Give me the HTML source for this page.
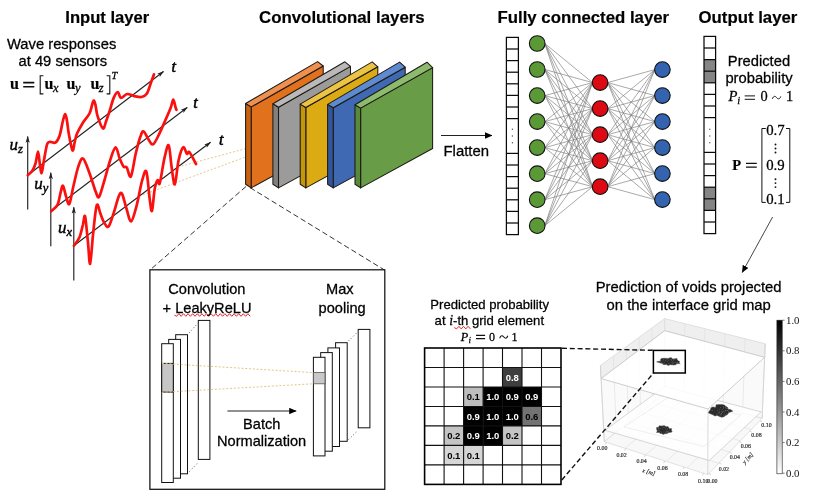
<!DOCTYPE html>
<html><head><meta charset="utf-8"><title>CNN void detection</title>
<style>
html,body{margin:0;padding:0;background:#fff;}
body{width:827px;height:502px;position:relative;overflow:hidden;font-family:"Liberation Sans",sans-serif;color:#000;}
svg{display:block;will-change:transform;opacity:0.999}
text{white-space:pre}
</style></head><body>
<svg width="827" height="502" viewBox="0 0 827 502" style="position:absolute;left:0;top:0">
<defs><marker id="ah" viewBox="0 0 10 10" refX="9" refY="5" markerWidth="7.5" markerHeight="7" markerUnits="userSpaceOnUse" orient="auto"><path d="M0,2 L10,5 L0,8 L2.2,5 z" fill="#222"/></marker><marker id="ab" viewBox="0 0 7.4 6.4" refX="7" refY="3.2" markerWidth="7.4" markerHeight="6.4" markerUnits="userSpaceOnUse" orient="auto"><path d="M0,0 L7.4,3.2 L0,6.4 z" fill="#000"/></marker><filter id="bl" x="-20%" y="-20%" width="140%" height="140%"><feGaussianBlur stdDeviation="0.35"/></filter><linearGradient id="cb" x1="0" y1="0" x2="0" y2="1"><stop offset="0" stop-color="#000"/><stop offset="1" stop-color="#fff"/></linearGradient></defs>
<g stroke="#222" stroke-width="1.15" fill="none">
<line x1="27.7" y1="175.3" x2="163.5" y2="71.5" marker-end="url(#ah)"/>
<line x1="27.7" y1="209.6" x2="27.7" y2="136.4" marker-end="url(#ah)"/>
<line x1="50.8" y1="211.0" x2="187.2" y2="107.5" marker-end="url(#ah)"/>
<line x1="50.8" y1="246.2" x2="50.8" y2="172.8" marker-end="url(#ah)"/>
<line x1="73.8" y1="245.8" x2="210.5" y2="142.3" marker-end="url(#ah)"/>
<line x1="73.8" y1="280.6" x2="73.8" y2="207.2" marker-end="url(#ah)"/>
</g>
<g stroke="#e2c788" stroke-width="1" fill="none" stroke-dasharray="2,1.8">
<line x1="178" y1="167" x2="245" y2="148.8"/>
<line x1="143" y1="194.8" x2="245" y2="157.2"/>
</g>
<g stroke="#fb1010" stroke-width="2.7" fill="none" stroke-linejoin="round" stroke-linecap="round">
<path d="M27.8,175.2 C28.6,174.4 31.0,172.6 32.3,170.7 C33.6,168.8 34.5,166.7 35.5,163.5 C36.5,160.3 37.3,151.5 38.0,151.5 C38.7,151.5 39.2,159.9 39.8,163.5 C40.4,167.1 40.9,173.4 41.6,173.0 C42.3,172.6 43.0,165.5 43.9,160.8 C44.8,156.1 46.0,147.8 47.0,144.7 C48.0,141.5 48.6,142.2 50.0,141.9 C51.4,141.6 53.8,143.6 55.4,142.6 C57.0,141.6 58.2,139.7 59.5,136.0 C60.8,132.3 62.0,124.2 63.0,120.5 C64.0,116.8 64.5,114.0 65.2,114.1 C65.9,114.2 66.4,117.7 67.0,121.0 C67.6,124.3 67.9,128.9 68.8,133.8 C69.7,138.7 71.5,148.8 72.4,150.3 C73.4,151.8 73.8,145.8 74.5,143.0 C75.2,140.2 75.5,137.3 76.9,133.8 C78.4,130.3 81.1,125.6 83.2,122.2 C85.3,118.8 88.0,116.5 89.5,113.5 C91.0,110.5 91.5,106.7 92.2,104.5 C92.9,102.3 93.3,100.4 93.9,100.6 C94.5,100.8 95.0,103.0 95.6,105.5 C96.2,108.0 96.3,112.1 97.5,115.9 C98.7,119.7 101.5,127.5 102.9,128.4 C104.3,129.3 105.0,124.2 106.0,121.5 C107.0,118.8 107.9,116.2 109.2,112.3 C110.5,108.4 112.3,101.2 113.7,97.9 C115.1,94.6 116.6,92.2 117.8,92.2 C119.0,92.2 119.4,97.6 120.9,97.9 C122.5,98.2 124.9,94.3 127.1,94.0 C129.3,93.7 131.9,95.6 134.3,96.1 C136.7,96.6 139.4,97.4 141.5,97.0 C143.6,96.6 145.3,96.0 146.9,93.5 C148.5,91.0 150.1,85.0 151.3,81.8 C152.5,78.6 153.6,75.5 154.0,74.3"/>
<path d="M51.2,211.2 C52.2,210.1 55.9,208.0 57.5,204.8 C59.1,201.6 59.8,195.3 60.7,192.1 C61.6,188.9 62.1,184.9 63.0,185.7 C63.9,186.5 65.1,193.8 66.2,196.9 C67.2,199.9 68.1,205.7 69.3,203.9 C70.6,202.0 72.0,191.9 73.5,185.7 C75.0,179.5 76.7,171.1 78.3,166.6 C79.9,162.0 81.2,157.5 83.1,158.6 C84.9,159.6 87.3,167.4 89.4,172.9 C91.6,178.5 94.2,188.1 95.8,192.1 C97.4,196.1 97.7,198.5 99.0,196.9 C100.3,195.3 101.9,188.6 103.8,182.5 C105.7,176.4 108.2,166.0 110.2,160.2 C112.1,154.3 114.0,147.7 115.6,147.4 C117.2,147.2 118.4,155.4 119.7,158.6 C121.1,161.8 122.4,165.1 123.6,166.6 C124.7,168.0 125.5,165.9 126.8,167.5 C128.0,169.2 129.4,178.7 130.9,176.4 C132.4,174.2 134.1,160.5 135.7,153.8 C137.3,147.1 139.1,140.0 140.5,136.3 C141.8,132.5 142.3,130.9 143.7,131.5 C145.0,132.0 146.9,137.3 148.5,139.4 C150.0,141.6 151.4,145.3 153.2,144.2 C155.1,143.2 157.5,137.3 159.6,133.1 C161.7,128.8 164.1,123.0 166.0,118.7 C167.9,114.5 169.6,110.7 170.8,107.5 C172.0,104.4 172.5,99.6 173.3,99.6 C174.1,99.6 175.0,105.8 175.6,107.5 C176.1,109.2 176.4,109.4 176.5,109.8"/>
<path d="M73.9,245.7 C74.9,244.3 78.0,240.8 79.5,237.3 C81.0,233.8 81.9,228.3 82.9,224.8 C83.8,221.3 84.3,213.6 85.1,216.4 C85.9,219.2 87.0,233.6 87.9,241.5 C88.7,249.4 89.3,264.7 90.1,263.8 C90.9,262.9 92.0,244.8 92.9,235.9 C93.8,227.1 94.9,216.0 95.7,210.8 C96.5,205.6 96.8,204.2 97.6,204.7 C98.4,205.2 99.3,210.5 100.4,213.6 C101.6,216.7 103.2,221.3 104.6,223.4 C106.0,225.5 107.2,228.3 108.8,226.2 C110.4,224.1 112.7,215.7 114.4,210.8 C116.0,206.0 117.3,199.8 118.5,196.9 C119.8,194.0 120.6,191.7 121.9,193.6 C123.2,195.4 124.8,203.4 126.3,208.0 C127.9,212.7 129.4,221.9 131.1,221.4 C132.8,221.0 134.8,212.1 136.7,205.3 C138.5,198.4 140.6,185.7 142.2,180.2 C143.9,174.6 145.2,168.6 146.4,171.8 C147.7,175.1 148.8,193.2 149.8,199.7 C150.7,206.2 151.1,212.7 152.0,210.8 C152.8,209.0 153.8,193.6 154.8,188.5 C155.7,183.4 156.7,181.1 157.6,180.2 C158.4,179.2 158.6,186.7 159.8,183.0 C161.0,179.2 163.0,164.1 164.5,157.9 C166.0,151.6 167.5,143.9 168.7,145.3 C169.9,146.7 170.5,159.7 171.5,166.2 C172.5,172.7 173.7,185.3 174.8,184.4 C176.0,183.4 177.1,166.8 178.5,160.7 C179.9,154.5 181.8,148.4 183.2,147.3 C184.6,146.1 185.8,152.9 186.8,153.7 C187.9,154.5 188.1,150.6 189.6,152.3 C191.1,154.0 195.0,162.1 196.0,164.0"/>
</g>
<g stroke="#333" stroke-width="1" fill="none" stroke-dasharray="5.5,3">
<line x1="246" y1="186.5" x2="150" y2="270"/>
<line x1="250" y1="187.6" x2="384.5" y2="270"/>
</g>
<polygon points="251.2,106.9 323.2,66.0 323.2,148.5 251.2,187.9" fill="#e2711d" stroke="#1f1a14" stroke-width="1.05" stroke-linejoin="round"/>
<polygon points="245.6,184.2 245.6,103.5 251.2,106.9 251.2,187.9" fill="#c9610f" stroke="#1f1a14" stroke-width="1.05" stroke-linejoin="round"/>
<polygon points="245.6,103.5 317.6,61.6 323.2,66.0 251.2,106.9" fill="#ee9150" stroke="#1f1a14" stroke-width="1.05" stroke-linejoin="round"/>
<polygon points="278.5,107.2 350.5,66.4 350.5,148.5 278.5,187.9" fill="#9b9b9b" stroke="#1f1a14" stroke-width="1.05" stroke-linejoin="round"/>
<polygon points="272.9,184.2 272.9,103.8 278.5,107.2 278.5,187.9" fill="#808080" stroke="#1f1a14" stroke-width="1.05" stroke-linejoin="round"/>
<polygon points="272.9,103.8 344.9,61.8 350.5,66.4 278.5,107.2" fill="#b9b9b9" stroke="#1f1a14" stroke-width="1.05" stroke-linejoin="round"/>
<polygon points="305.8,107.5 377.8,66.8 377.8,148.5 305.8,187.9" fill="#dcaa12" stroke="#1f1a14" stroke-width="1.05" stroke-linejoin="round"/>
<polygon points="300.2,184.2 300.2,104.1 305.8,107.5 305.8,187.9" fill="#c39708" stroke="#1f1a14" stroke-width="1.05" stroke-linejoin="round"/>
<polygon points="300.2,104.1 372.2,61.9 377.8,66.8 305.8,107.5" fill="#ebc444" stroke="#1f1a14" stroke-width="1.05" stroke-linejoin="round"/>
<polygon points="333.2,107.8 405.2,67.2 405.2,148.5 333.2,187.9" fill="#3f69b3" stroke="#1f1a14" stroke-width="1.05" stroke-linejoin="round"/>
<polygon points="327.6,184.2 327.6,104.4 333.2,107.8 333.2,187.9" fill="#31569c" stroke="#1f1a14" stroke-width="1.05" stroke-linejoin="round"/>
<polygon points="327.6,104.4 399.6,62.1 405.2,67.2 333.2,107.8" fill="#5e8ad2" stroke="#1f1a14" stroke-width="1.05" stroke-linejoin="round"/>
<polygon points="360.6,108.1 432.6,67.6 432.6,148.5 360.6,187.9" fill="#699c46" stroke="#1f1a14" stroke-width="1.05" stroke-linejoin="round"/>
<polygon points="355.0,184.2 355.0,104.7 360.6,108.1 360.6,187.9" fill="#598a3a" stroke="#1f1a14" stroke-width="1.05" stroke-linejoin="round"/>
<polygon points="355.0,104.7 427.0,62.2 432.6,67.6 360.6,108.1" fill="#8dbb6d" stroke="#1f1a14" stroke-width="1.05" stroke-linejoin="round"/>
<line x1="441" y1="135.5" x2="492" y2="135.5" stroke="#222" stroke-width="1" marker-end="url(#ab)"/>
<g stroke="#7a7a7a" stroke-width="0.65">
<line x1="544.8" y1="43.5" x2="592.5" y2="82.6"/>
<line x1="544.8" y1="43.5" x2="592.5" y2="108.6"/>
<line x1="544.8" y1="43.5" x2="592.5" y2="134.7"/>
<line x1="544.8" y1="43.5" x2="592.5" y2="160.7"/>
<line x1="544.8" y1="43.5" x2="592.5" y2="186.7"/>
<line x1="544.8" y1="69.5" x2="592.5" y2="82.6"/>
<line x1="544.8" y1="69.5" x2="592.5" y2="108.6"/>
<line x1="544.8" y1="69.5" x2="592.5" y2="134.7"/>
<line x1="544.8" y1="69.5" x2="592.5" y2="160.7"/>
<line x1="544.8" y1="69.5" x2="592.5" y2="186.7"/>
<line x1="544.8" y1="95.6" x2="592.5" y2="82.6"/>
<line x1="544.8" y1="95.6" x2="592.5" y2="108.6"/>
<line x1="544.8" y1="95.6" x2="592.5" y2="134.7"/>
<line x1="544.8" y1="95.6" x2="592.5" y2="160.7"/>
<line x1="544.8" y1="95.6" x2="592.5" y2="186.7"/>
<line x1="544.8" y1="121.6" x2="592.5" y2="82.6"/>
<line x1="544.8" y1="121.6" x2="592.5" y2="108.6"/>
<line x1="544.8" y1="121.6" x2="592.5" y2="134.7"/>
<line x1="544.8" y1="121.6" x2="592.5" y2="160.7"/>
<line x1="544.8" y1="121.6" x2="592.5" y2="186.7"/>
<line x1="544.8" y1="147.6" x2="592.5" y2="82.6"/>
<line x1="544.8" y1="147.6" x2="592.5" y2="108.6"/>
<line x1="544.8" y1="147.6" x2="592.5" y2="134.7"/>
<line x1="544.8" y1="147.6" x2="592.5" y2="160.7"/>
<line x1="544.8" y1="147.6" x2="592.5" y2="186.7"/>
<line x1="544.8" y1="173.7" x2="592.5" y2="82.6"/>
<line x1="544.8" y1="173.7" x2="592.5" y2="108.6"/>
<line x1="544.8" y1="173.7" x2="592.5" y2="134.7"/>
<line x1="544.8" y1="173.7" x2="592.5" y2="160.7"/>
<line x1="544.8" y1="173.7" x2="592.5" y2="186.7"/>
<line x1="544.8" y1="199.7" x2="592.5" y2="82.6"/>
<line x1="544.8" y1="199.7" x2="592.5" y2="108.6"/>
<line x1="544.8" y1="199.7" x2="592.5" y2="134.7"/>
<line x1="544.8" y1="199.7" x2="592.5" y2="160.7"/>
<line x1="544.8" y1="199.7" x2="592.5" y2="186.7"/>
<line x1="544.8" y1="225.7" x2="592.5" y2="82.6"/>
<line x1="544.8" y1="225.7" x2="592.5" y2="108.6"/>
<line x1="544.8" y1="225.7" x2="592.5" y2="134.7"/>
<line x1="544.8" y1="225.7" x2="592.5" y2="160.7"/>
<line x1="544.8" y1="225.7" x2="592.5" y2="186.7"/>
<line x1="607.7" y1="82.6" x2="654.8" y2="69.6"/>
<line x1="607.7" y1="82.6" x2="654.8" y2="95.6"/>
<line x1="607.7" y1="82.6" x2="654.8" y2="121.6"/>
<line x1="607.7" y1="82.6" x2="654.8" y2="147.6"/>
<line x1="607.7" y1="82.6" x2="654.8" y2="173.6"/>
<line x1="607.7" y1="82.6" x2="654.8" y2="199.6"/>
<line x1="607.7" y1="108.6" x2="654.8" y2="69.6"/>
<line x1="607.7" y1="108.6" x2="654.8" y2="95.6"/>
<line x1="607.7" y1="108.6" x2="654.8" y2="121.6"/>
<line x1="607.7" y1="108.6" x2="654.8" y2="147.6"/>
<line x1="607.7" y1="108.6" x2="654.8" y2="173.6"/>
<line x1="607.7" y1="108.6" x2="654.8" y2="199.6"/>
<line x1="607.7" y1="134.7" x2="654.8" y2="69.6"/>
<line x1="607.7" y1="134.7" x2="654.8" y2="95.6"/>
<line x1="607.7" y1="134.7" x2="654.8" y2="121.6"/>
<line x1="607.7" y1="134.7" x2="654.8" y2="147.6"/>
<line x1="607.7" y1="134.7" x2="654.8" y2="173.6"/>
<line x1="607.7" y1="134.7" x2="654.8" y2="199.6"/>
<line x1="607.7" y1="160.7" x2="654.8" y2="69.6"/>
<line x1="607.7" y1="160.7" x2="654.8" y2="95.6"/>
<line x1="607.7" y1="160.7" x2="654.8" y2="121.6"/>
<line x1="607.7" y1="160.7" x2="654.8" y2="147.6"/>
<line x1="607.7" y1="160.7" x2="654.8" y2="173.6"/>
<line x1="607.7" y1="160.7" x2="654.8" y2="199.6"/>
<line x1="607.7" y1="186.7" x2="654.8" y2="69.6"/>
<line x1="607.7" y1="186.7" x2="654.8" y2="95.6"/>
<line x1="607.7" y1="186.7" x2="654.8" y2="121.6"/>
<line x1="607.7" y1="186.7" x2="654.8" y2="147.6"/>
<line x1="607.7" y1="186.7" x2="654.8" y2="173.6"/>
<line x1="607.7" y1="186.7" x2="654.8" y2="199.6"/>
</g>
<g stroke="#111" stroke-width="1.1">
<circle cx="537.2" cy="43.5" r="7.8" fill="#5b9937"/>
<circle cx="537.2" cy="69.5" r="7.8" fill="#5b9937"/>
<circle cx="537.2" cy="95.6" r="7.8" fill="#5b9937"/>
<circle cx="537.2" cy="121.6" r="7.8" fill="#5b9937"/>
<circle cx="537.2" cy="147.6" r="7.8" fill="#5b9937"/>
<circle cx="537.2" cy="173.7" r="7.8" fill="#5b9937"/>
<circle cx="537.2" cy="199.7" r="7.8" fill="#5b9937"/>
<circle cx="537.2" cy="225.7" r="7.8" fill="#5b9937"/>
<circle cx="600.1" cy="82.6" r="7.8" fill="#dd0a14"/>
<circle cx="600.1" cy="108.6" r="7.8" fill="#dd0a14"/>
<circle cx="600.1" cy="134.7" r="7.8" fill="#dd0a14"/>
<circle cx="600.1" cy="160.7" r="7.8" fill="#dd0a14"/>
<circle cx="600.1" cy="186.7" r="7.8" fill="#dd0a14"/>
<circle cx="662.4" cy="69.6" r="7.8" fill="#3464b0"/>
<circle cx="662.4" cy="95.6" r="7.8" fill="#3464b0"/>
<circle cx="662.4" cy="121.6" r="7.8" fill="#3464b0"/>
<circle cx="662.4" cy="147.6" r="7.8" fill="#3464b0"/>
<circle cx="662.4" cy="173.6" r="7.8" fill="#3464b0"/>
<circle cx="662.4" cy="199.6" r="7.8" fill="#3464b0"/>
</g>
<g stroke="#0a0a0a" stroke-width="1.25" fill="none">
<rect x="506.4" y="37.4" width="12.0" height="197.2"/>
<line x1="506.4" y1="49.0" x2="518.4" y2="49.0"/>
<line x1="506.4" y1="60.6" x2="518.4" y2="60.6"/>
<line x1="506.4" y1="72.2" x2="518.4" y2="72.2"/>
<line x1="506.4" y1="83.8" x2="518.4" y2="83.8"/>
<line x1="506.4" y1="95.4" x2="518.4" y2="95.4"/>
<line x1="506.4" y1="107.0" x2="518.4" y2="107.0"/>
<line x1="506.4" y1="118.6" x2="518.4" y2="118.6"/>
<line x1="506.4" y1="153.4" x2="518.4" y2="153.4"/>
<line x1="506.4" y1="165.0" x2="518.4" y2="165.0"/>
<line x1="506.4" y1="176.6" x2="518.4" y2="176.6"/>
<line x1="506.4" y1="188.2" x2="518.4" y2="188.2"/>
<line x1="506.4" y1="199.8" x2="518.4" y2="199.8"/>
<line x1="506.4" y1="211.4" x2="518.4" y2="211.4"/>
<line x1="506.4" y1="223.0" x2="518.4" y2="223.0"/>
</g>
<circle cx="512.4" cy="129.2" r="0.7" fill="#555"/>
<circle cx="512.4" cy="136.0" r="0.7" fill="#555"/>
<circle cx="512.4" cy="142.8" r="0.7" fill="#555"/>
<rect x="704.0" y="59.6" width="11.6" height="11.6" fill="#858585"/>
<rect x="704.0" y="71.2" width="11.6" height="11.6" fill="#858585"/>
<rect x="704.0" y="187.2" width="11.6" height="11.6" fill="#858585"/>
<rect x="704.0" y="198.8" width="11.6" height="11.6" fill="#858585"/>
<g stroke="#0a0a0a" stroke-width="1.25" fill="none">
<rect x="704.0" y="36.4" width="11.6" height="197.2"/>
<line x1="704.0" y1="48.0" x2="715.6" y2="48.0"/>
<line x1="704.0" y1="59.6" x2="715.6" y2="59.6"/>
<line x1="704.0" y1="71.2" x2="715.6" y2="71.2"/>
<line x1="704.0" y1="82.8" x2="715.6" y2="82.8"/>
<line x1="704.0" y1="94.4" x2="715.6" y2="94.4"/>
<line x1="704.0" y1="106.0" x2="715.6" y2="106.0"/>
<line x1="704.0" y1="117.6" x2="715.6" y2="117.6"/>
<line x1="704.0" y1="152.4" x2="715.6" y2="152.4"/>
<line x1="704.0" y1="164.0" x2="715.6" y2="164.0"/>
<line x1="704.0" y1="175.6" x2="715.6" y2="175.6"/>
<line x1="704.0" y1="187.2" x2="715.6" y2="187.2"/>
<line x1="704.0" y1="198.8" x2="715.6" y2="198.8"/>
<line x1="704.0" y1="210.4" x2="715.6" y2="210.4"/>
<line x1="704.0" y1="222.0" x2="715.6" y2="222.0"/>
</g>
<circle cx="709.8" cy="129.2" r="0.7" fill="#555"/>
<circle cx="709.8" cy="136.0" r="0.7" fill="#555"/>
<circle cx="709.8" cy="142.8" r="0.7" fill="#555"/>
<line x1="772.6" y1="217" x2="742.2" y2="272.5" stroke="#333" stroke-width="0.9" marker-end="url(#ab)"/>
<g stroke="#111" stroke-width="1" fill="none">
<path d="M765.8,128.5 H761.9 V202.4 H765.8"/>
<path d="M786,128.5 H789.8 V202.4 H786"/>
</g>
<circle cx="775.5" cy="144.5" r="0.95" fill="#111"/>
<circle cx="775.5" cy="148.5" r="0.95" fill="#111"/>
<circle cx="775.5" cy="152.5" r="0.95" fill="#111"/>
<circle cx="775.5" cy="179.2" r="0.95" fill="#111"/>
<circle cx="775.5" cy="183.1" r="0.95" fill="#111"/>
<circle cx="775.5" cy="187.1" r="0.95" fill="#111"/>
<rect x="149.9" y="269.8" width="234.9" height="219.5" fill="#fff" stroke="#111" stroke-width="1.25"/>
<g stroke="#111" stroke-width="1" fill="#fff">
<rect x="198.3" y="320.4" width="11.6" height="139"/>
<rect x="175.7" y="334.7" width="11.8" height="139.1"/>
<rect x="168.7" y="339.4" width="11.8" height="138.8"/>
<rect x="161.7" y="343.7" width="11.6" height="138.8"/>
<rect x="161.7" y="363.4" width="11.6" height="28.7" fill="#c6c6c6"/>
<rect x="358.2" y="329.4" width="11.7" height="98.4"/>
<rect x="335.6" y="342.7" width="11.6" height="98.6"/>
<rect x="327.9" y="347.9" width="11.6" height="98.6"/>
<rect x="320.7" y="352.6" width="11.6" height="98.6"/>
<rect x="313.4" y="357.3" width="11.6" height="98.6"/>
<rect x="313.4" y="372.4" width="11.6" height="11.4" fill="#c8c8c8" stroke="#555" stroke-width="0.8"/>
</g>
<g stroke="#333" stroke-width="0.9" stroke-dasharray="0.9,2.4" fill="none">
<line x1="189.5" y1="471.5" x2="198" y2="462.5"/><line x1="189" y1="333" x2="198" y2="323"/>
<line x1="348.5" y1="439.5" x2="358" y2="430.5"/><line x1="348.5" y1="341" x2="358" y2="331.5"/>
</g>
<g stroke="#e2c788" stroke-width="1" stroke-dasharray="2,1.8" fill="none">
<line x1="161.8" y1="363.4" x2="313.2" y2="372.6"/><line x1="161.8" y1="392.3" x2="313.2" y2="383.8"/>
</g>
<line x1="227.4" y1="411" x2="296.2" y2="411" stroke="#222" stroke-width="1" marker-end="url(#ab)"/>
<path d="M174.3,315.0 L176.6,316.3 L178.9,313.7 L181.2,316.3 L183.5,313.7 L185.8,316.3 L188.1,313.7 L190.4,316.3 L192.7,313.7 L195.0,316.3 L197.3,313.7 L199.6,316.3 L201.9,313.7 L204.2,316.3 L206.5,313.7 L208.8,316.3 L211.1,313.7 L213.4,316.3 L215.7,313.7 L218.0,316.3 L220.3,313.7 L222.6,316.3 L224.9,313.7 L227.2,316.3 L229.5,313.7 L231.8,316.3 L234.1,313.7 L236.4,316.3 L238.7,313.7 L241.0,316.3 L243.3,313.7 L245.6,316.3 L247.9,313.7 L250.2,316.3" stroke="#e8262a" stroke-width="1" fill="none"/>
<path d="M454.3,327.6 L456.6,328.9 L458.9,326.3 L461.2,328.9 L463.5,326.3 L465.8,328.9 L468.1,326.3 L470.4,328.9" stroke="#e8262a" stroke-width="1" fill="none"/>
<rect x="502.5" y="367.5" width="19.5" height="19.5" fill="#3e3e3e"/>
<rect x="463.6" y="387.0" width="19.5" height="19.5" fill="#bdbdbd"/>
<rect x="483.1" y="387.0" width="19.5" height="19.5" fill="#000"/>
<rect x="502.5" y="387.0" width="19.5" height="19.5" fill="#000"/>
<rect x="522.0" y="387.0" width="19.5" height="19.5" fill="#000"/>
<rect x="463.6" y="406.5" width="19.5" height="19.5" fill="#000"/>
<rect x="483.1" y="406.5" width="19.5" height="19.5" fill="#000"/>
<rect x="502.5" y="406.5" width="19.5" height="19.5" fill="#000"/>
<rect x="522.0" y="406.5" width="19.5" height="19.5" fill="#737373"/>
<rect x="444.1" y="425.9" width="19.5" height="19.5" fill="#c4c4c4"/>
<rect x="463.6" y="425.9" width="19.5" height="19.5" fill="#000"/>
<rect x="483.1" y="425.9" width="19.5" height="19.5" fill="#000"/>
<rect x="502.5" y="425.9" width="19.5" height="19.5" fill="#c4c4c4"/>
<rect x="444.1" y="445.4" width="19.5" height="19.5" fill="#d6d6d6"/>
<rect x="463.6" y="445.4" width="19.5" height="19.5" fill="#d6d6d6"/>
<g stroke="#111" stroke-width="1.1">
<line x1="444.1" y1="348.0" x2="444.1" y2="484.4"/>
<line x1="424.6" y1="367.5" x2="561.0" y2="367.5"/>
<line x1="463.6" y1="348.0" x2="463.6" y2="484.4"/>
<line x1="424.6" y1="387.0" x2="561.0" y2="387.0"/>
<line x1="483.1" y1="348.0" x2="483.1" y2="484.4"/>
<line x1="424.6" y1="406.5" x2="561.0" y2="406.5"/>
<line x1="502.5" y1="348.0" x2="502.5" y2="484.4"/>
<line x1="424.6" y1="425.9" x2="561.0" y2="425.9"/>
<line x1="522.0" y1="348.0" x2="522.0" y2="484.4"/>
<line x1="424.6" y1="445.4" x2="561.0" y2="445.4"/>
<line x1="541.5" y1="348.0" x2="541.5" y2="484.4"/>
<line x1="424.6" y1="464.9" x2="561.0" y2="464.9"/>
</g>
<rect x="424.6" y="348.0" width="136.4" height="136.4" fill="none" stroke="#000" stroke-width="1.6"/>
<g font-family="Liberation Sans, sans-serif" font-weight="bold" font-size="9.5" text-anchor="middle">
<text x="512.3" y="380.7" fill="#fff">0.8</text>
<text x="473.3" y="400.2" fill="#000">0.1</text>
<text x="492.8" y="400.2" fill="#fff">1.0</text>
<text x="512.3" y="400.2" fill="#fff">0.9</text>
<text x="531.8" y="400.2" fill="#fff">0.9</text>
<text x="473.3" y="419.7" fill="#fff">0.9</text>
<text x="492.8" y="419.7" fill="#fff">1.0</text>
<text x="512.3" y="419.7" fill="#fff">1.0</text>
<text x="531.8" y="419.7" fill="#000">0.6</text>
<text x="453.8" y="439.2" fill="#000">0.2</text>
<text x="473.3" y="439.2" fill="#fff">0.9</text>
<text x="492.8" y="439.2" fill="#fff">1.0</text>
<text x="512.3" y="439.2" fill="#000">0.2</text>
<text x="453.8" y="458.7" fill="#000">0.1</text>
<text x="473.3" y="458.7" fill="#000">0.1</text>
</g>
<polygon points="600.4,365.5 664.7,318.7 664.7,393.0 604.3,441.7" fill="#fafafa" stroke="#e0e0e0" stroke-width="0.7" fill-opacity="1" stroke-linejoin="round"/>
<polygon points="664.7,318.7 765.2,343.8 762.1,418.3 664.7,393.0" fill="#fafafa" stroke="#e0e0e0" stroke-width="0.7" fill-opacity="1" stroke-linejoin="round"/>
<polygon points="600.4,365.5 664.7,318.7 664.7,330.7 601.0,378.6" fill="#efefef" stroke="#dcdcdc" stroke-width="0.7" fill-opacity="1" stroke-linejoin="round"/>
<polygon points="664.7,318.7 765.2,343.8 764.7,357.3 664.7,330.7" fill="#efefef" stroke="#dcdcdc" stroke-width="0.7" fill-opacity="1" stroke-linejoin="round"/>
<polygon points="604.3,441.7 664.7,393.0 762.1,418.3 707.8,474.6" fill="#f8f8f8" stroke="#d6d6d6" stroke-width="0.7" fill-opacity="1" stroke-linejoin="round"/>
<g stroke="#dddddd" stroke-width="0.6">
<line x1="613.3" y1="356.1" x2="616.4" y2="432.0"/>
<line x1="684.8" y1="323.7" x2="684.2" y2="398.1"/>
<line x1="625.0" y1="448.3" x2="684.2" y2="398.1"/>
<line x1="616.4" y1="432.0" x2="718.7" y2="463.3"/>
<line x1="626.1" y1="346.8" x2="628.5" y2="422.2"/>
<line x1="704.9" y1="328.7" x2="703.7" y2="403.1"/>
<line x1="645.7" y1="454.9" x2="703.7" y2="403.1"/>
<line x1="628.5" y1="422.2" x2="729.5" y2="452.1"/>
<line x1="639.0" y1="337.4" x2="640.5" y2="412.5"/>
<line x1="725.0" y1="333.8" x2="723.1" y2="408.2"/>
<line x1="666.4" y1="461.4" x2="723.1" y2="408.2"/>
<line x1="640.5" y1="412.5" x2="740.4" y2="440.8"/>
<line x1="651.8" y1="328.1" x2="652.6" y2="402.7"/>
<line x1="745.1" y1="338.8" x2="742.6" y2="413.2"/>
<line x1="687.1" y1="468.0" x2="742.6" y2="413.2"/>
<line x1="652.6" y1="402.7" x2="751.2" y2="429.6"/>
</g>
<g stroke="#bbb" stroke-width="0.6">
<line x1="606.4" y1="442.4" x2="605.2" y2="444.6"/>
<line x1="708.9" y1="473.5" x2="711.1" y2="474.7"/>
<line x1="625.8" y1="448.5" x2="624.6" y2="450.7"/>
<line x1="719.1" y1="462.9" x2="721.3" y2="464.1"/>
<line x1="645.3" y1="454.7" x2="644.1" y2="456.9"/>
<line x1="729.3" y1="452.3" x2="731.5" y2="453.5"/>
<line x1="664.7" y1="460.9" x2="663.5" y2="463.1"/>
<line x1="739.5" y1="441.7" x2="741.7" y2="442.9"/>
<line x1="684.2" y1="467.1" x2="683.0" y2="469.3"/>
<line x1="749.7" y1="431.1" x2="751.9" y2="432.3"/>
<line x1="703.7" y1="473.3" x2="702.5" y2="475.5"/>
<line x1="759.9" y1="420.6" x2="762.1" y2="421.8"/>
</g>
<polygon points="605.0,430.3 664.7,386.5 761.1,411.9 709.3,460.5" fill="#ffffff" stroke="#cdcdcd" stroke-width="0.8" fill-opacity="0.8" stroke-linejoin="round"/>
<polygon points="624,427 668,397.5 741,415 704,446.5" fill="none" stroke="#e4e4e4" stroke-width="0.6"/>
<polygon points="601.0,378.6 664.7,330.7 764.7,357.3 708.0,409.0" fill="#ffffff" stroke="#c8c8c8" stroke-width="0.9" fill-opacity="0.85" stroke-linejoin="round"/>
<g stroke="#cfcfcf" stroke-width="0.8"><line x1="708" y1="409" x2="707.8" y2="474.6"/><line x1="600.4" y1="365.5" x2="604.3" y2="441.7"/><line x1="765.2" y1="343.8" x2="762.1" y2="418.3"/></g>
<polygon points="679.9,361.8 678.8,362.5 680.2,363.6 676.4,363.7 676.0,364.8 673.3,365.0 670.6,364.7 668.1,365.4 666.3,364.5 663.3,364.7 662.6,363.7 661.3,363.2 658.9,362.6 656.6,361.8 660.3,361.1 660.7,360.3 660.6,359.3 661.8,358.3 665.4,358.3 668.2,358.4 671.1,357.5 672.7,359.1 676.9,358.4 677.2,359.6 677.9,360.4 678.6,361.1" fill="#2a2a2a" stroke="#555" stroke-width="0.5" stroke-linejoin="round" filter="url(#bl)"/>
<circle cx="666.4" cy="364.4" r="0.35" fill="#8a8a8a"/><circle cx="672.6" cy="363.9" r="0.35" fill="#8a8a8a"/><circle cx="665.7" cy="360.4" r="0.35" fill="#8a8a8a"/><circle cx="667.2" cy="361.6" r="0.35" fill="#8a8a8a"/><circle cx="673.6" cy="362.3" r="0.35" fill="#8a8a8a"/><circle cx="666.8" cy="360.0" r="0.35" fill="#8a8a8a"/><circle cx="666.6" cy="364.0" r="0.35" fill="#8a8a8a"/><circle cx="664.5" cy="362.3" r="0.35" fill="#8a8a8a"/><circle cx="671.7" cy="359.3" r="0.35" fill="#8a8a8a"/><circle cx="669.8" cy="364.1" r="0.35" fill="#8a8a8a"/><circle cx="660.6" cy="361.3" r="0.35" fill="#8a8a8a"/><circle cx="668.8" cy="360.2" r="0.35" fill="#8a8a8a"/><circle cx="672.8" cy="361.7" r="0.35" fill="#8a8a8a"/><circle cx="662.2" cy="363.1" r="0.35" fill="#8a8a8a"/><circle cx="673.4" cy="363.5" r="0.35" fill="#8a8a8a"/><circle cx="677.1" cy="362.4" r="0.35" fill="#8a8a8a"/><circle cx="670.2" cy="359.5" r="0.35" fill="#8a8a8a"/><circle cx="673.3" cy="360.6" r="0.35" fill="#8a8a8a"/><circle cx="667.0" cy="359.6" r="0.35" fill="#8a8a8a"/><circle cx="663.8" cy="360.8" r="0.35" fill="#8a8a8a"/><circle cx="674.5" cy="359.3" r="0.35" fill="#8a8a8a"/><circle cx="661.8" cy="362.2" r="0.35" fill="#8a8a8a"/><circle cx="677.0" cy="362.8" r="0.35" fill="#8a8a8a"/><circle cx="663.7" cy="359.4" r="0.35" fill="#8a8a8a"/><circle cx="671.7" cy="360.3" r="0.35" fill="#8a8a8a"/><circle cx="663.6" cy="363.4" r="0.35" fill="#8a8a8a"/><circle cx="676.0" cy="362.1" r="0.35" fill="#8a8a8a"/><circle cx="671.1" cy="362.7" r="0.35" fill="#8a8a8a"/><circle cx="677.3" cy="362.8" r="0.35" fill="#8a8a8a"/><circle cx="672.8" cy="362.9" r="0.35" fill="#8a8a8a"/><circle cx="662.6" cy="363.6" r="0.35" fill="#8a8a8a"/><circle cx="675.1" cy="362.8" r="0.35" fill="#8a8a8a"/><circle cx="660.9" cy="360.9" r="0.35" fill="#8a8a8a"/><circle cx="673.3" cy="359.2" r="0.35" fill="#8a8a8a"/><circle cx="668.4" cy="363.7" r="0.35" fill="#8a8a8a"/><circle cx="663.8" cy="364.0" r="0.35" fill="#8a8a8a"/>
<polygon points="732.8,411.2 728.9,412.4 728.2,413.6 727.2,414.7 725.6,415.5 724.0,416.7 721.7,417.3 719.3,416.4 717.5,415.5 714.8,415.9 713.1,414.9 711.0,414.0 708.4,412.9 709.2,411.2 710.3,409.8 710.8,408.3 712.1,407.0 715.7,407.3 716.1,404.7 719.0,404.6 721.8,404.4 724.5,405.0 726.0,406.6 727.8,407.5 727.9,408.9 731.0,409.7" fill="#2a2a2a" stroke="#555" stroke-width="0.5" stroke-linejoin="round" filter="url(#bl)"/>
<circle cx="722.5" cy="411.7" r="0.35" fill="#8a8a8a"/><circle cx="721.3" cy="413.2" r="0.35" fill="#8a8a8a"/><circle cx="719.3" cy="412.2" r="0.35" fill="#8a8a8a"/><circle cx="723.8" cy="411.2" r="0.35" fill="#8a8a8a"/><circle cx="724.6" cy="413.0" r="0.35" fill="#8a8a8a"/><circle cx="728.5" cy="411.9" r="0.35" fill="#8a8a8a"/><circle cx="717.9" cy="409.9" r="0.35" fill="#8a8a8a"/><circle cx="720.3" cy="414.2" r="0.35" fill="#8a8a8a"/><circle cx="718.4" cy="412.5" r="0.35" fill="#8a8a8a"/><circle cx="725.5" cy="407.1" r="0.35" fill="#8a8a8a"/><circle cx="714.4" cy="411.9" r="0.35" fill="#8a8a8a"/><circle cx="722.8" cy="412.0" r="0.35" fill="#8a8a8a"/><circle cx="717.9" cy="413.4" r="0.35" fill="#8a8a8a"/><circle cx="722.1" cy="409.4" r="0.35" fill="#8a8a8a"/><circle cx="728.8" cy="411.9" r="0.35" fill="#8a8a8a"/><circle cx="717.1" cy="410.9" r="0.35" fill="#8a8a8a"/><circle cx="719.0" cy="411.0" r="0.35" fill="#8a8a8a"/><circle cx="711.9" cy="410.3" r="0.35" fill="#8a8a8a"/><circle cx="725.2" cy="408.0" r="0.35" fill="#8a8a8a"/><circle cx="720.0" cy="414.2" r="0.35" fill="#8a8a8a"/><circle cx="724.2" cy="415.0" r="0.35" fill="#8a8a8a"/><circle cx="712.8" cy="410.3" r="0.35" fill="#8a8a8a"/><circle cx="718.4" cy="413.3" r="0.35" fill="#8a8a8a"/><circle cx="723.7" cy="406.6" r="0.35" fill="#8a8a8a"/><circle cx="725.1" cy="407.6" r="0.35" fill="#8a8a8a"/><circle cx="723.5" cy="407.3" r="0.35" fill="#8a8a8a"/><circle cx="721.3" cy="414.8" r="0.35" fill="#8a8a8a"/><circle cx="719.5" cy="411.9" r="0.35" fill="#8a8a8a"/><circle cx="725.0" cy="411.7" r="0.35" fill="#8a8a8a"/><circle cx="720.0" cy="415.4" r="0.35" fill="#8a8a8a"/><circle cx="726.0" cy="410.3" r="0.35" fill="#8a8a8a"/><circle cx="728.4" cy="409.3" r="0.35" fill="#8a8a8a"/><circle cx="725.5" cy="410.4" r="0.35" fill="#8a8a8a"/><circle cx="721.2" cy="413.5" r="0.35" fill="#8a8a8a"/><circle cx="721.7" cy="413.3" r="0.35" fill="#8a8a8a"/><circle cx="714.5" cy="407.9" r="0.35" fill="#8a8a8a"/><circle cx="723.7" cy="408.3" r="0.35" fill="#8a8a8a"/><circle cx="715.9" cy="407.5" r="0.35" fill="#8a8a8a"/><circle cx="726.5" cy="413.3" r="0.35" fill="#8a8a8a"/><circle cx="726.9" cy="408.8" r="0.35" fill="#8a8a8a"/><circle cx="720.4" cy="407.7" r="0.35" fill="#8a8a8a"/><circle cx="723.8" cy="415.2" r="0.35" fill="#8a8a8a"/><circle cx="716.5" cy="415.1" r="0.35" fill="#8a8a8a"/><circle cx="725.8" cy="410.6" r="0.35" fill="#8a8a8a"/><circle cx="713.5" cy="414.0" r="0.35" fill="#8a8a8a"/><circle cx="719.8" cy="409.2" r="0.35" fill="#8a8a8a"/><circle cx="722.8" cy="412.6" r="0.35" fill="#8a8a8a"/><circle cx="726.9" cy="408.7" r="0.35" fill="#8a8a8a"/><circle cx="725.2" cy="414.8" r="0.35" fill="#8a8a8a"/><circle cx="727.4" cy="410.7" r="0.35" fill="#8a8a8a"/><circle cx="716.6" cy="414.2" r="0.35" fill="#8a8a8a"/><circle cx="721.1" cy="411.6" r="0.35" fill="#8a8a8a"/><circle cx="727.3" cy="410.5" r="0.35" fill="#8a8a8a"/><circle cx="712.1" cy="410.4" r="0.35" fill="#8a8a8a"/>
<polygon points="671.1,430.0 672.2,431.2 671.4,432.3 668.8,432.5 667.7,433.2 666.4,433.7 664.8,433.8 663.1,434.4 661.7,433.6 660.0,433.4 659.4,432.4 656.4,432.4 657.4,431.0 656.8,430.0 656.7,428.9 656.4,427.6 658.7,427.2 659.1,425.8 661.4,426.0 663.1,425.7 664.9,425.7 666.0,426.8 668.0,426.6 668.7,427.5 669.1,428.4 672.0,428.8" fill="#2a2a2a" stroke="#555" stroke-width="0.5" stroke-linejoin="round" filter="url(#bl)"/>
<circle cx="666.0" cy="432.2" r="0.35" fill="#8a8a8a"/><circle cx="663.3" cy="427.3" r="0.35" fill="#8a8a8a"/><circle cx="661.9" cy="432.3" r="0.35" fill="#8a8a8a"/><circle cx="658.8" cy="428.9" r="0.35" fill="#8a8a8a"/><circle cx="667.7" cy="431.7" r="0.35" fill="#8a8a8a"/><circle cx="664.0" cy="431.9" r="0.35" fill="#8a8a8a"/><circle cx="664.6" cy="427.4" r="0.35" fill="#8a8a8a"/><circle cx="659.0" cy="428.8" r="0.35" fill="#8a8a8a"/><circle cx="667.5" cy="428.7" r="0.35" fill="#8a8a8a"/><circle cx="660.6" cy="428.3" r="0.35" fill="#8a8a8a"/><circle cx="658.9" cy="429.8" r="0.35" fill="#8a8a8a"/><circle cx="659.7" cy="430.8" r="0.35" fill="#8a8a8a"/><circle cx="658.0" cy="430.5" r="0.35" fill="#8a8a8a"/><circle cx="662.2" cy="426.8" r="0.35" fill="#8a8a8a"/><circle cx="667.0" cy="429.3" r="0.35" fill="#8a8a8a"/><circle cx="658.4" cy="428.7" r="0.35" fill="#8a8a8a"/><circle cx="665.2" cy="428.9" r="0.35" fill="#8a8a8a"/><circle cx="667.0" cy="431.7" r="0.35" fill="#8a8a8a"/><circle cx="666.7" cy="430.8" r="0.35" fill="#8a8a8a"/><circle cx="668.6" cy="431.3" r="0.35" fill="#8a8a8a"/><circle cx="665.2" cy="426.6" r="0.35" fill="#8a8a8a"/><circle cx="667.0" cy="432.6" r="0.35" fill="#8a8a8a"/><circle cx="662.7" cy="428.8" r="0.35" fill="#8a8a8a"/><circle cx="668.5" cy="427.6" r="0.35" fill="#8a8a8a"/><circle cx="665.2" cy="433.5" r="0.35" fill="#8a8a8a"/><circle cx="660.5" cy="431.5" r="0.35" fill="#8a8a8a"/><circle cx="669.6" cy="429.8" r="0.35" fill="#8a8a8a"/><circle cx="666.2" cy="432.0" r="0.35" fill="#8a8a8a"/>
<rect x="653.4" y="350.4" width="31.9" height="22.6" fill="none" stroke="#000" stroke-width="1.5"/>
<rect x="776.9" y="320.2" width="5.3" height="153.6" fill="url(#cb)" stroke="#222" stroke-width="0.6"/>
<g stroke="#222" stroke-width="0.6">
<line x1="782.6" y1="320.2" x2="784.6" y2="320.2"/>
<line x1="782.6" y1="350.8" x2="784.6" y2="350.8"/>
<line x1="782.6" y1="381.4" x2="784.6" y2="381.4"/>
<line x1="782.6" y1="412.0" x2="784.6" y2="412.0"/>
<line x1="782.6" y1="442.6" x2="784.6" y2="442.6"/>
<line x1="782.6" y1="473.2" x2="784.6" y2="473.2"/>
</g>
<g font-family="Liberation Serif, serif" font-size="10.8" fill="#111">
<text x="786" y="323.7">1.0</text>
<text x="786" y="354.3">0.8</text>
<text x="786" y="384.9">0.6</text>
<text x="786" y="415.5">0.4</text>
<text x="786" y="446.1">0.2</text>
<text x="786" y="476.7">0.0</text>
</g>
<g font-family="Liberation Serif, serif" font-size="5.9" fill="#333" stroke="#333" stroke-width="0.2" text-anchor="middle">
<text x="602.2" y="449.9">0.00</text>
<text x="621.6" y="456.6">0.02</text>
<text x="641.6" y="463.0">0.04</text>
<text x="662.5" y="470.0">0.06</text>
<text x="683.1" y="476.3">0.08</text>
<text x="703.2" y="482.8">0.10</text>
<text x="712.4" y="482.7">0.00</text>
<text x="723.9" y="470.8">0.02</text>
<text x="734.8" y="459.2">0.04</text>
<text x="745.8" y="448.4">0.06</text>
<text x="756.5" y="437.3">0.08</text>
<text x="766.5" y="426.9">0.10</text>
<text transform="translate(648.3,473.8) rotate(17)" font-style="italic">x [m]</text>
<text transform="translate(749.2,459.5) rotate(-48)" font-style="italic">y [m]</text>
</g>
<g stroke="#111" stroke-width="1.4" stroke-dasharray="5,2.8" fill="none">
<line x1="562" y1="348.3" x2="653.4" y2="350.3"/>
<line x1="561.8" y1="480" x2="653.4" y2="373.2"/>
</g>
<text x="65.3" y="22.7" font-family="Liberation Sans, sans-serif" font-size="16.60" font-weight="bold" font-style="normal" fill="#000" stroke="#000" stroke-width="0.2" >Input layer</text>
<text x="259.0" y="22.6" font-family="Liberation Sans, sans-serif" font-size="16.85" font-weight="bold" font-style="normal" fill="#000" stroke="#000" stroke-width="0.2" >Convolutional layers</text>
<text x="497.5" y="22.6" font-family="Liberation Sans, sans-serif" font-size="16.80" font-weight="bold" font-style="normal" fill="#000" stroke="#000" stroke-width="0.2" >Fully connected layer</text>
<text x="698.5" y="22.6" font-family="Liberation Sans, sans-serif" font-size="16.80" font-weight="bold" font-style="normal" fill="#000" stroke="#000" stroke-width="0.2" >Output layer</text>
<text x="7.0" y="48.6" font-family="Liberation Sans, sans-serif" font-size="14.75" font-weight="normal" font-style="normal" fill="#000" stroke="#000" stroke-width="0.28" >Wave responses</text>
<text x="18.5" y="66.4" font-family="Liberation Sans, sans-serif" font-size="14.75" font-weight="normal" font-style="normal" fill="#000" stroke="#000" stroke-width="0.28" >at 49 sensors</text>
<text x="443.5" y="155.7" font-family="Liberation Sans, sans-serif" font-size="14.90" font-weight="normal" font-style="normal" fill="#000" stroke="#000" stroke-width="0.28" >Flatten</text>
<text x="727.8" y="65.9" font-family="Liberation Sans, sans-serif" font-size="14.75" font-weight="normal" font-style="normal" fill="#000" stroke="#000" stroke-width="0.28" >Predicted</text>
<text x="725.4" y="82.9" font-family="Liberation Sans, sans-serif" font-size="14.75" font-weight="normal" font-style="normal" fill="#000" stroke="#000" stroke-width="0.28" >probability</text>
<text x="168.3" y="294.3" font-family="Liberation Sans, sans-serif" font-size="14.60" font-weight="normal" font-style="normal" fill="#000" stroke="#000" stroke-width="0.28" >Convolution</text>
<text x="162.6" y="313.2" font-family="Liberation Sans, sans-serif" font-size="14.60" font-weight="normal" font-style="normal" fill="#000" stroke="#000" stroke-width="0.28" >+ LeakyReLU</text>
<text x="326.0" y="294.3" font-family="Liberation Sans, sans-serif" font-size="14.60" font-weight="normal" font-style="normal" fill="#000" stroke="#000" stroke-width="0.28" >Max</text>
<text x="318.6" y="313.2" font-family="Liberation Sans, sans-serif" font-size="14.60" font-weight="normal" font-style="normal" fill="#000" stroke="#000" stroke-width="0.28" >pooling</text>
<text x="243.1" y="429.1" font-family="Liberation Sans, sans-serif" font-size="14.60" font-weight="normal" font-style="normal" fill="#000" stroke="#000" stroke-width="0.28" >Batch</text>
<text x="217.0" y="446.4" font-family="Liberation Sans, sans-serif" font-size="14.60" font-weight="normal" font-style="normal" fill="#000" stroke="#000" stroke-width="0.28" >Normalization</text>
<text x="595.7" y="292.1" font-family="Liberation Sans, sans-serif" font-size="14.80" font-weight="normal" font-style="normal" fill="#000" stroke="#000" stroke-width="0.28" >Prediction of voids projected</text>
<text x="606.6" y="309.7" font-family="Liberation Sans, sans-serif" font-size="14.85" font-weight="normal" font-style="normal" fill="#000" stroke="#000" stroke-width="0.28" >on the interface grid map</text>
<text x="430.3" y="308.6" font-family="Liberation Sans, sans-serif" font-size="13.10" font-weight="normal" font-style="normal" fill="#000" stroke="#000" stroke-width="0.28" >Predicted probability</text>
<text x="434.6" y="325.4" font-family="Liberation Sans, sans-serif" font-size="13.10" font-weight="normal" font-style="normal" fill="#000" stroke="#000" stroke-width="0.28" >at <tspan font-family="Liberation Serif, serif" font-style="italic" font-weight="normal" font-size="14">i</tspan>-th grid element</text>
<text x="728.4" y="101.4" font-family="Liberation Serif, serif" font-size="14.60" font-weight="normal" font-style="normal" fill="#000" stroke="#000" stroke-width="0.28" ><tspan font-family="Liberation Serif, serif" font-style="italic" font-weight="normal">P</tspan></text>
<text x="737.2" y="104.3" font-family="Liberation Serif, serif" font-size="10.50" font-weight="normal" font-style="normal" fill="#000" stroke="#000" stroke-width="0.28" ><tspan font-family="Liberation Serif, serif" font-style="italic" font-weight="normal">i</tspan></text>
<path d="M744.7,95.9 H755.0 M744.7,99.3 H755.0" stroke="#111" stroke-width="1.0" fill="none"/>
<text x="760.4" y="101.4" font-family="Liberation Serif, serif" font-size="14.40" font-weight="normal" font-style="normal" fill="#000" stroke="#000" stroke-width="0.28" >0</text>
<path d="M772.4,98.8 C773.7,95.4 775.3,96.0 776.6,97.6 S779.5,99.8 780.8,96.4" stroke="#111" stroke-width="1.0" fill="none"/>
<text x="786.0" y="101.4" font-family="Liberation Serif, serif" font-size="14.40" font-weight="normal" font-style="normal" fill="#000" stroke="#000" stroke-width="0.28" >1</text>
<text x="460.7" y="340.6" font-family="Liberation Serif, serif" font-size="12.20" font-weight="normal" font-style="normal" fill="#000" stroke="#000" stroke-width="0.28" ><tspan font-family="Liberation Serif, serif" font-style="italic" font-weight="normal">P</tspan></text>
<text x="468.6" y="343.0" font-family="Liberation Serif, serif" font-size="9.00" font-weight="normal" font-style="normal" fill="#000" stroke="#000" stroke-width="0.28" ><tspan font-family="Liberation Serif, serif" font-style="italic" font-weight="normal">i</tspan></text>
<path d="M476.0,335.4 H485.1 M476.0,338.6 H485.1" stroke="#111" stroke-width="1.1" fill="none"/>
<text x="488.9" y="340.6" font-family="Liberation Serif, serif" font-size="12.00" font-weight="normal" font-style="normal" fill="#000" stroke="#000" stroke-width="0.28" >0</text>
<path d="M499.7,338.2 C500.9,334.8 502.5,335.4 503.8,337.0 S506.6,339.2 507.8,335.8" stroke="#111" stroke-width="1.1" fill="none"/>
<text x="511.4" y="340.6" font-family="Liberation Serif, serif" font-size="12.00" font-weight="normal" font-style="normal" fill="#000" stroke="#000" stroke-width="0.28" >1</text>
<text x="732.2" y="169.8" font-family="Liberation Serif, serif" font-size="14.50" font-weight="bold" font-style="normal" fill="#000" stroke="#000" stroke-width="0.2" >P</text>
<path d="M746.0,163.4 H756.8 M746.0,167.2 H756.8" stroke="#111" stroke-width="1.2" fill="none"/>
<text x="766.2" y="134.9" font-family="Liberation Serif, serif" font-size="14.80" font-weight="normal" font-style="normal" fill="#000" stroke="#000" stroke-width="0.28" >0.7</text>
<text x="766.2" y="169.8" font-family="Liberation Serif, serif" font-size="14.80" font-weight="normal" font-style="normal" fill="#000" stroke="#000" stroke-width="0.28" >0.9</text>
<text x="766.2" y="204.3" font-family="Liberation Serif, serif" font-size="14.80" font-weight="normal" font-style="normal" fill="#000" stroke="#000" stroke-width="0.28" >0.1</text>
<text x="9.9" y="88.8" font-family="Liberation Serif, serif" font-size="16.00" font-weight="bold" font-style="normal" fill="#000" stroke="#000" stroke-width="0.2" >u</text>
<path d="M23.2,82.6 H34.3 M23.2,86.8 H34.3" stroke="#111" stroke-width="1.6" fill="none"/>
<g stroke="#111" stroke-width="1.1" fill="none"><path d="M43.4,75.8 H40.2 V93.9 H43.4"/><path d="M106.6,75.8 H109.8 V93.9 H106.6"/></g>
<text x="44.6" y="88.8" font-family="Liberation Serif, serif" font-size="16.00" font-weight="bold" font-style="normal" fill="#000" stroke="#000" stroke-width="0.2" >u</text>
<text x="53.0" y="91.8" font-family="Liberation Serif, serif" font-size="12.50" font-weight="normal" font-style="normal" fill="#000" stroke="#000" stroke-width="0.28" ><tspan font-family="Liberation Serif, serif" font-style="italic" font-weight="normal">x</tspan></text>
<text x="66.6" y="88.8" font-family="Liberation Serif, serif" font-size="16.00" font-weight="bold" font-style="normal" fill="#000" stroke="#000" stroke-width="0.2" >u</text>
<text x="75.0" y="91.8" font-family="Liberation Serif, serif" font-size="12.50" font-weight="normal" font-style="normal" fill="#000" stroke="#000" stroke-width="0.28" ><tspan font-family="Liberation Serif, serif" font-style="italic" font-weight="normal">y</tspan></text>
<text x="90.4" y="88.8" font-family="Liberation Serif, serif" font-size="16.00" font-weight="bold" font-style="normal" fill="#000" stroke="#000" stroke-width="0.2" >u</text>
<text x="98.8" y="91.8" font-family="Liberation Serif, serif" font-size="12.50" font-weight="normal" font-style="normal" fill="#000" stroke="#000" stroke-width="0.28" ><tspan font-family="Liberation Serif, serif" font-style="italic" font-weight="normal">z</tspan></text>
<text x="111.6" y="79.0" font-family="Liberation Serif, serif" font-size="10.50" font-weight="normal" font-style="normal" fill="#000" stroke="#000" stroke-width="0.28" ><tspan font-family="Liberation Serif, serif" font-style="italic" font-weight="normal">T</tspan></text>
<text x="9.6" y="150.1" font-family="Liberation Serif, serif" font-size="17.00" font-weight="normal" font-style="normal" fill="#000" stroke="#000" stroke-width="0.4" ><tspan font-family="Liberation Serif, serif" font-style="italic" font-weight="normal">u</tspan><tspan font-family="Liberation Serif, serif" font-style="italic" font-weight="normal" font-size="12.5" dy="3.2">z</tspan></text>
<text x="34.2" y="188.6" font-family="Liberation Serif, serif" font-size="17.00" font-weight="normal" font-style="normal" fill="#000" stroke="#000" stroke-width="0.4" ><tspan font-family="Liberation Serif, serif" font-style="italic" font-weight="normal">u</tspan><tspan font-family="Liberation Serif, serif" font-style="italic" font-weight="normal" font-size="12.5" dy="3.2">y</tspan></text>
<text x="58.1" y="233.2" font-family="Liberation Serif, serif" font-size="17.00" font-weight="normal" font-style="normal" fill="#000" stroke="#000" stroke-width="0.4" ><tspan font-family="Liberation Serif, serif" font-style="italic" font-weight="normal">u</tspan><tspan font-family="Liberation Serif, serif" font-style="italic" font-weight="normal" font-size="12.5" dy="3.2">x</tspan></text>
<text x="171.5" y="72.3" font-family="Liberation Serif, serif" font-size="16.00" font-weight="normal" font-style="normal" fill="#000" stroke="#000" stroke-width="0.55" ><tspan font-family="Liberation Serif, serif" font-style="italic" font-weight="normal">t</tspan></text>
<text x="193.2" y="108.3" font-family="Liberation Serif, serif" font-size="16.00" font-weight="normal" font-style="normal" fill="#000" stroke="#000" stroke-width="0.55" ><tspan font-family="Liberation Serif, serif" font-style="italic" font-weight="normal">t</tspan></text>
<text x="219.0" y="144.6" font-family="Liberation Serif, serif" font-size="16.00" font-weight="normal" font-style="normal" fill="#000" stroke="#000" stroke-width="0.55" ><tspan font-family="Liberation Serif, serif" font-style="italic" font-weight="normal">t</tspan></text>
</svg>
</body></html>
